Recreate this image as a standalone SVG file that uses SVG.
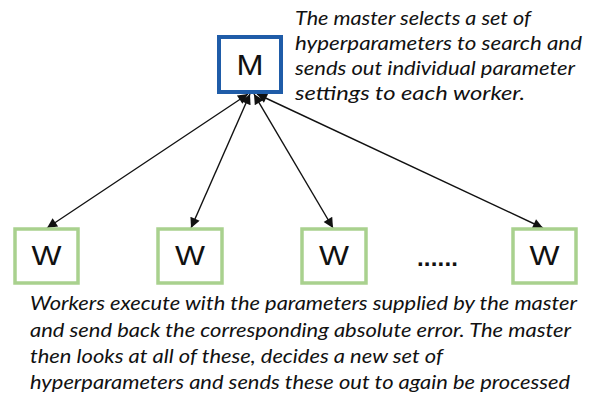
<svg xmlns="http://www.w3.org/2000/svg" width="591" height="401" viewBox="0 0 591 401">
<defs>
<style>
.master{fill:#fff;stroke:#1f5ca8;stroke-width:4}
.worker{fill:#fff;stroke:#a9d18e;stroke-width:3.5}
.lbl{font-family:"Liberation Sans",Arial,sans-serif;fill:#111;text-anchor:middle}
.note{font-family:Lato,"Liberation Sans",sans-serif;font-style:italic;font-size:20px;fill:#111}
.conn{stroke:#111;stroke-width:1.4;fill:none;marker-start:url(#ah);marker-end:url(#ah)}
</style>
<marker id="ah" viewBox="0 0 10 10" refX="10" refY="5" markerWidth="12" markerHeight="10" markerUnits="userSpaceOnUse" orient="auto-start-reverse">
<path d="M0,0 L10,5 L0,10 z" fill="#111"/>
</marker>
</defs>
<rect width="591" height="401" fill="#fff"/>
<g id="connectors">
<line class="conn" x1="248" y1="94" x2="47" y2="228"/>
<line class="conn" x1="250" y1="94" x2="191" y2="228"/>
<line class="conn" x1="254" y1="94" x2="333" y2="228"/>
<line class="conn" x1="257" y1="94" x2="543" y2="228"/>
</g>
<g id="node-M">
<rect class="master" x="219" y="37" width="62" height="55"/>
<text class="lbl" x="250" y="75" font-size="30" textLength="27" lengthAdjust="spacingAndGlyphs">M</text>
</g>
<g id="node-W1">
<rect class="worker" x="15" y="229" width="63" height="54"/>
<text class="lbl" x="46.5" y="265" font-size="28" textLength="30" lengthAdjust="spacingAndGlyphs">W</text>
</g>
<g id="node-W2">
<rect class="worker" x="158" y="229" width="64" height="54"/>
<text class="lbl" x="190" y="265" font-size="28" textLength="30" lengthAdjust="spacingAndGlyphs">W</text>
</g>
<g id="node-W3">
<rect class="worker" x="302" y="229" width="64" height="54"/>
<text class="lbl" x="334" y="265" font-size="28" textLength="30" lengthAdjust="spacingAndGlyphs">W</text>
</g>
<g id="node-W4">
<rect class="worker" x="513" y="229" width="63" height="54"/>
<text class="lbl" x="544.5" y="265" font-size="28" textLength="30" lengthAdjust="spacingAndGlyphs">W</text>
</g>
<g id="ellipsis">
<text class="lbl" x="437.5" y="266" font-size="24" font-weight="bold" textLength="41" lengthAdjust="spacing">......</text>
</g>
<g id="note-master">
<text class="note"><tspan x="295" y="25" textLength="236" lengthAdjust="spacingAndGlyphs">The master selects a set of</tspan><tspan x="295" y="50" textLength="287" lengthAdjust="spacingAndGlyphs">hyperparameters to search and</tspan><tspan x="295" y="75" textLength="280" lengthAdjust="spacingAndGlyphs">sends out individual parameter</tspan><tspan x="295" y="100" textLength="230" lengthAdjust="spacingAndGlyphs">settings to each worker.</tspan></text>
</g>
<g id="note-workers">
<text class="note"><tspan x="30" y="310" textLength="547" lengthAdjust="spacingAndGlyphs">Workers  execute with the parameters supplied by the master</tspan><tspan x="30" y="337" textLength="541" lengthAdjust="spacingAndGlyphs">and send back the corresponding absolute error. The master</tspan><tspan x="30" y="363" textLength="413" lengthAdjust="spacingAndGlyphs">then looks at all of these, decides a new set of</tspan><tspan x="30" y="389" textLength="540" lengthAdjust="spacingAndGlyphs">hyperparameters and sends these out to again be processed</tspan></text>
</g>
</svg>
